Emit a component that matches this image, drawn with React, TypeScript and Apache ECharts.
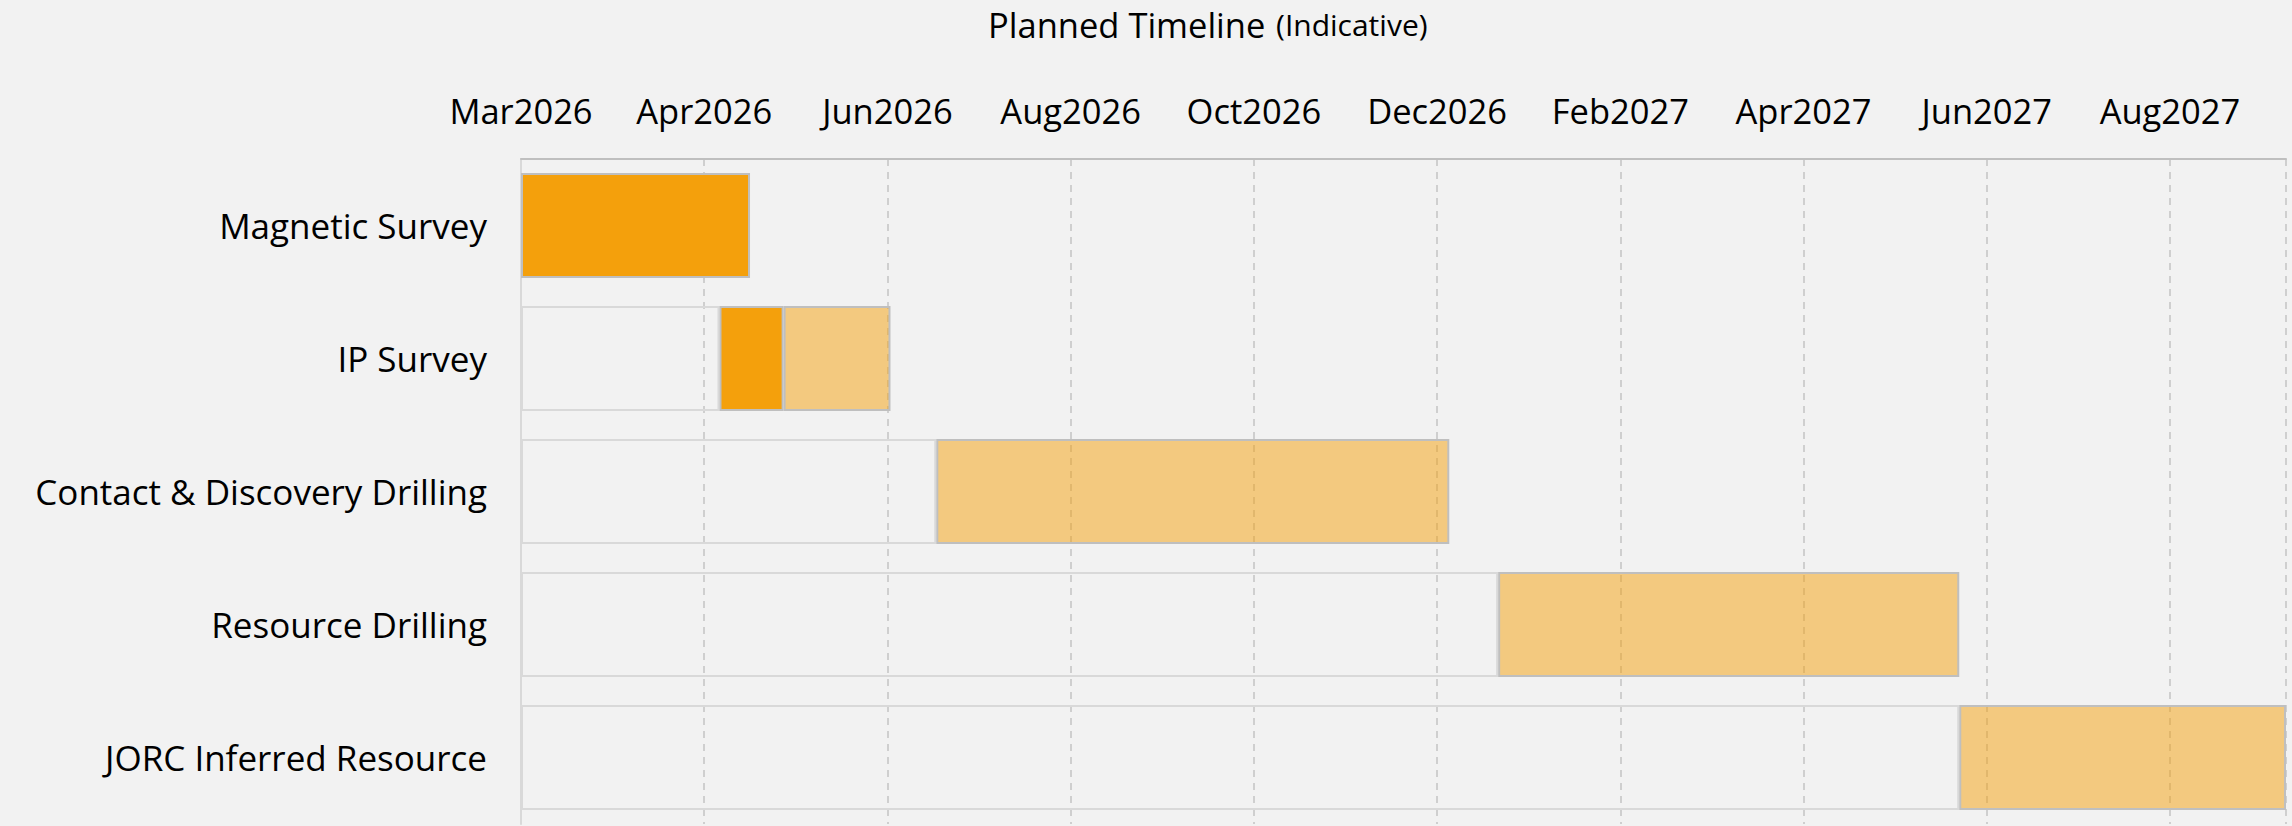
import React, { useEffect, useRef } from "react";
import * as echarts from "echarts";

// Project phases (top to bottom)
const categories = [
  "Magnetic Survey",
  "IP Survey",
  "Contact & Discovery Drilling",
  "Resource Drilling",
  "JORC Inferred Resource",
];
// Days from 1 Mar 2026 until the phase starts (transparent track)
const offsetDays = [0, 65, 136, 320, 471];
// Days in the darker (committed) segment
const darkDays = [75, 21, 0, 0, 0];
// Days in the lighter (planned) segment
const lightDays = [0, 35, 168, 151, 107];

const axisStart = "2026-03-01";
const axisEndDay = 578;
const tickStepDays = 60;
const monthNames = ["Jan", "Feb", "Mar", "Apr", "May", "Jun", "Jul", "Aug", "Sep", "Oct", "Nov", "Dec"];

const FONT = "Open Sans";

function dayLabel(v: number): string {
  const d = new Date(axisStart + "T00:00:00Z");
  d.setUTCDate(d.getUTCDate() + Math.round(v));
  return monthNames[d.getUTCMonth()] + d.getUTCFullYear();
}

const nz = (a: number[]) => a.map((v) => (v === 0 ? "-" : v));

export default function App() {
  const ref = useRef<HTMLDivElement>(null);
  useEffect(() => {
    if (!ref.current) return;
    const chart = echarts.init(ref.current, null, { renderer: "svg" });
    chart.setOption({
      animation: false,
      backgroundColor: "#f2f2f2",
      textStyle: { fontFamily: FONT },
      title: {
        left: 988,
        top: 7,
        padding: 0,
        text: "{a|Planned Timeline} {b|(Indicative)}",
        textStyle: {
          fontWeight: "normal",
          rich: {
            a: { fontSize: 34.5, color: "#000", fontFamily: FONT, fontWeight: "normal", padding: [0, 6, 0, 0] },
            b: { fontSize: 30, color: "#000", fontFamily: FONT, fontWeight: "normal" },
          },
        },
      },
      grid: { left: 521, right: 6, top: 159, bottom: 2, containLabel: false },
      xAxis: {
        type: "value",
        position: "top",
        min: 0,
        max: axisEndDay,
        interval: tickStepDays,
        axisLine: { show: true, lineStyle: { color: "#bfbfbf", width: 2 } },
        axisTick: { show: false },
        axisLabel: {
          formatter: (v: number) => dayLabel(v),
          fontSize: 34.5,
          color: "#000",
          margin: 31,
          showMaxLabel: false,
          fontFamily: FONT,
        },
        splitLine: { show: true, lineStyle: { color: "#c4c4c4", width: 1.5, type: [7, 6] } },
      },
      yAxis: {
        type: "category",
        data: categories,
        inverse: true,
        axisLine: { show: true, lineStyle: { color: "#d9d9d9", width: 2 } },
        axisTick: { show: false },
        axisLabel: { fontSize: 35, color: "#000", margin: 34, fontFamily: FONT },
        splitLine: { show: false },
      },
      series: [
        {
          name: "Offset",
          type: "bar",
          stack: "g",
          barCategoryGap: "21%",
          data: nz(offsetDays),
          itemStyle: { color: "rgba(0,0,0,0)", borderColor: "#d9d9d9", borderWidth: 2 },
          silent: true,
        },
        {
          name: "Committed",
          type: "bar",
          stack: "g",
          data: nz(darkDays),
          itemStyle: { color: "#f4a00c", borderColor: "#bfbfbf", borderWidth: 2 },
        },
        {
          name: "Planned",
          type: "bar",
          stack: "g",
          data: nz(lightDays),
          itemStyle: { color: "rgba(244,160,12,0.5)", borderColor: "#bfbfbf", borderWidth: 2 },
        },
      ],
    });
    return () => chart.dispose();
  }, []);
  return (
    <div
      ref={ref}
      style={{ position: "absolute", left: 0, top: 0, width: "2292px", height: "826px" }}
    />
  );
}
